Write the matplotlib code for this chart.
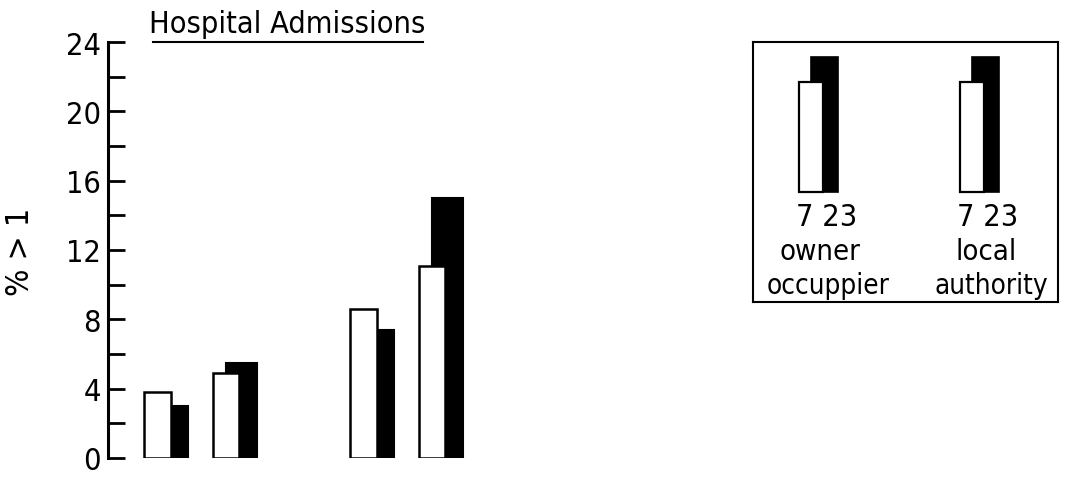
import matplotlib
matplotlib.use("Agg")
import matplotlib.pyplot as plt
from matplotlib.lines import Line2D

plt.rcParams['font.family'] = ['DejaVu Sans']
plt.rcParams['font.stretch'] = 'condensed'

# data
positions = [0, 1, 3, 4]
age7 = [3.8, 4.9, 8.6, 11.1]      # white bars
age23 = [3.0, 5.5, 7.4, 15.0]     # black bars
yticks = [0, 4, 8, 12, 16, 20, 24]
legend_groups = ["owner", "occuppier", "local", "authority"]
legend_ages = "7 23"

W, H = 1065, 485
fig = plt.figure(figsize=(W / 100, H / 100), dpi=100)

ax = fig.add_axes([108 / W, 26 / H, (700 - 108) / W, 416 / H])
white_w, black_off, black_w = 0.39, 0.19, 0.45
for x, a, b in zip(positions, age7, age23):
    ax.bar(x + black_off, b, width=black_w, align='edge', color='black',
           edgecolor='black', linewidth=1.5, zorder=2)
    ax.bar(x, a, width=white_w, align='edge', color='white',
           edgecolor='black', linewidth=1.8, zorder=3)

ax.set_ylim(0, 24)
ax.set_xlim(-0.525, 8.1)
ax.set_yticks(yticks)
ax.set_yticks(range(2, 24, 4), minor=True)
ax.tick_params(axis='y', which='both', direction='in', length=12, width=2,
               labelsize=22, pad=5)
ax.set_xticks([])
for s in ['top', 'right', 'bottom']:
    ax.spines[s].set_visible(False)
ax.spines['left'].set_linewidth(2.2)
fig.text(21 / W, 1 - 252 / H, "% > 1", fontsize=23, rotation=90,
         ha='center', va='center')

fig.text(287 / W, 1 - 33 / H, "Hospital Admissions", fontsize=22,
         ha='center', va='baseline')
fig.add_artist(Line2D([153 / W, 423 / W], [1 - 43 / H, 1 - 43 / H],
                      color='black', linewidth=1.5))

# legend box
lg = fig.add_axes([753 / W, 182 / H, 305 / W, 260 / H])
lg.set_xlim(0, 1)
lg.set_ylim(0, 1)
lg.set_xticks([])
lg.set_yticks([])
for s in lg.spines.values():
    s.set_linewidth(1.5)
for i, cx in enumerate([0.151, 0.679]):
    lg.bar(cx + 0.04, 0.52, bottom=0.423, width=0.088, align='edge',
           color='black', edgecolor='black', linewidth=1.2, zorder=2)
    lg.bar(cx, 0.423, bottom=0.423, width=0.08, align='edge',
           color='white', edgecolor='black', linewidth=1.6, zorder=3)
    lg.text([0.243, 0.769][i], 0.33, legend_ages, fontsize=22,
            ha='center', va='center')
    lg.text([0.22, 0.765][i], 0.196, legend_groups[2 * i], fontsize=21,
            ha='center', va='center')
    lg.text([0.245, 0.78][i], 0.065, legend_groups[2 * i + 1], fontsize=20,
            ha='center', va='center')

fig.savefig("out.png", dpi=100)
